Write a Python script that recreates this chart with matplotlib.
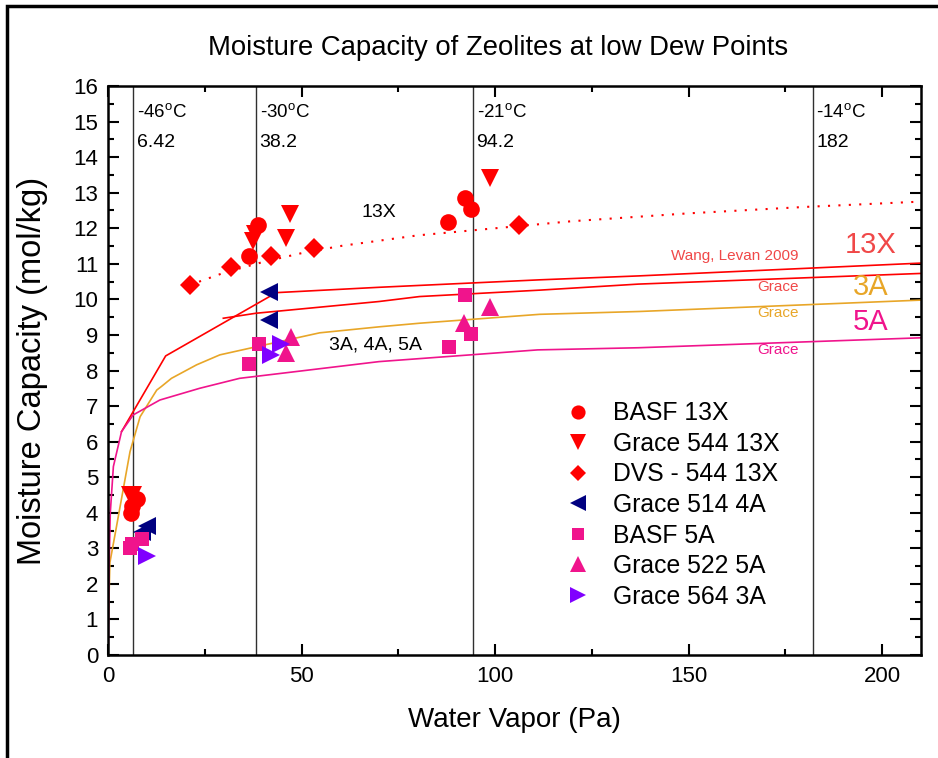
import numpy as np
import matplotlib
matplotlib.use('Agg')
import matplotlib.pyplot as plt
from matplotlib.patches import Rectangle
from matplotlib.ticker import MultipleLocator

plt.rcParams['font.family'] = ['Liberation Sans', 'DejaVu Sans']
plt.rcParams['mathtext.default'] = 'regular'

# measured points (water vapor Pa, capacity mol/kg)
basf13x_x = [6.2, 7.6, 6.0, 38.8, 36.5, 87.8, 92.1, 93.8]
basf13x_y = [4.2, 4.4, 4.0, 12.09, 11.22, 12.19, 12.84, 12.53]
g544_x = [5.6, 6.5, 37.9, 37.5, 45.9, 47.1, 98.7]
g544_y = [4.5, 4.5, 11.85, 11.65, 11.72, 12.39, 13.40]
dvs544_x = [21.2, 31.7, 42.2, 53.2, 106.1]
dvs544_y = [10.40, 10.90, 11.22, 11.45, 12.09]
g514_x = [10.0, 8.9, 41.5, 41.5]
g514_y = [3.62, 3.47, 10.22, 9.42]
basf5a_x = [5.8, 6.3, 8.7, 39.0, 36.5, 92.1, 93.8, 88.0]
basf5a_y = [3.0, 3.12, 3.27, 8.74, 8.18, 10.12, 9.04, 8.67]
g522_x = [47.4, 45.9, 98.6, 92.0]
g522_y = [8.95, 8.48, 9.80, 9.33]
g564_x = [10.0, 44.8, 42.2]
g564_y = [2.77, 8.75, 8.44]

# dotted trend through the 13X points
trend_x = [21, 30, 40, 50, 60, 80, 100, 120, 150, 180, 210]
trend_y = [10.40, 10.75, 11.05, 11.30, 11.50, 11.80, 12.00, 12.20, 12.42, 12.60, 12.75]

# isotherm curves
wang_x = [3.5, 14.9, 43.5, 70, 111.5, 137, 210]
wang_y = [6.28, 8.41, 10.19, 10.34, 10.55, 10.66, 11.02]
grace13_x = [29.8, 38.2, 70, 80.5, 111.5, 137, 210]
grace13_y = [9.47, 9.61, 9.94, 10.08, 10.26, 10.43, 10.73]
grace3a_x = [0.1, 0.5, 2.2, 5.7, 8.3, 12.6, 13.8, 16.4, 22.9, 28.9, 38.4, 54.7, 70.2, 80.5, 111.5, 137.3, 210]
grace3a_y = [0.9, 2.6, 3.61, 5.72, 6.70, 7.45, 7.55, 7.78, 8.16, 8.44, 8.67, 9.06, 9.23, 9.33, 9.58, 9.66, 9.98]
grace5a_x = [0.1, 0.3, 0.6, 1.4, 3.5, 6.5, 13.4, 23.7, 34, 70, 111, 137, 210]
grace5a_y = [0.3, 2.5, 4.0, 5.3, 6.28, 6.75, 7.17, 7.50, 7.78, 8.25, 8.58, 8.64, 8.92]

dew_p = [6.42, 38.2, 94.2, 182]
dew_t = ['-46', '-30', '-21', '-14']
dew_lbl = ['6.42', '38.2', '94.2', '182']

RED = '#ff0000'
ORANGE = '#e8a628'
PINK = '#f0148c'
NAVY = '#000080'
PURPLE = '#8000ff'

fig = plt.figure(figsize=(9.38, 7.58), dpi=100)
ax = fig.add_axes([0.1151, 0.1359, 0.8667, 0.7506])

for xv in dew_p:
    ax.axvline(xv, color='#303030', lw=1.0, zorder=1)
for xv, t, l in zip(dew_p, dew_t, dew_lbl):
    ax.text(xv + 1.0, 15.27, t + '$^{o}$C', fontsize=13.5, va='center')
    ax.text(xv + 1.0, 14.4, l, fontsize=14, va='center')

ax.plot(wang_x, wang_y, color=RED, lw=1.2, zorder=2)
ax.plot(grace13_x, grace13_y, color=RED, lw=1.2, zorder=2)
ax.plot(grace3a_x, grace3a_y, color=ORANGE, lw=1.2, zorder=2)
ax.plot(grace5a_x, grace5a_y, color=PINK, lw=1.2, zorder=2)
ax.plot(trend_x, trend_y, color=RED, lw=1.5, ls=(0, (1, 4)), zorder=2)

ms = dict(ls='none', zorder=3, markeredgewidth=0)
ax.plot(basf13x_x, basf13x_y, 'o', color=RED, ms=12, label='BASF 13X', **ms)
ax.plot(g544_x, g544_y, 'v', color=RED, ms=13, label='Grace 544 13X', **ms)
ax.plot(dvs544_x, dvs544_y, 'D', color=RED, ms=10, label='DVS - 544 13X', **ms)
ax.plot(g514_x, g514_y, '<', color=NAVY, ms=13, label='Grace 514 4A', **ms)
ax.plot(basf5a_x, basf5a_y, 's', color=PINK, ms=10, label='BASF 5A', **ms)
ax.plot(g522_x, g522_y, '^', color=PINK, ms=13, label='Grace 522 5A', **ms)
ax.plot(g564_x, g564_y, '>', color=PURPLE, ms=13, label='Grace 564 3A', **ms)

ax.text(70, 12.43, '13X', fontsize=14, ha='center', va='center')
ax.text(69, 8.72, '3A, 4A, 5A', fontsize=14, ha='center', va='center')
ax.text(178.5, 11.22, 'Wang, Levan 2009', fontsize=11, color='#f04848', ha='right', va='center')
ax.text(178.5, 10.35, 'Grace', fontsize=11, color='#f04848', ha='right', va='center')
ax.text(178.5, 9.62, 'Grace', fontsize=11, color=ORANGE, ha='right', va='center')
ax.text(178.5, 8.58, 'Grace', fontsize=11, color=PINK, ha='right', va='center')
ax.text(197, 11.53, '13X', fontsize=21, color='#f04848', ha='center', va='center')
ax.text(197, 10.35, '3A', fontsize=21, color=ORANGE, ha='center', va='center')
ax.text(197, 9.36, '5A', fontsize=21, color=PINK, ha='center', va='center')

ax.set_xlim(0, 210)
ax.set_ylim(0, 16)
ax.xaxis.set_major_locator(MultipleLocator(50))
ax.xaxis.set_minor_locator(MultipleLocator(25))
ax.yaxis.set_major_locator(MultipleLocator(1))
ax.yaxis.set_minor_locator(MultipleLocator(0.5))
ax.tick_params(which='both', direction='in', top=True, right=True, width=1.5)
ax.tick_params(which='major', length=8, labelsize=16)
ax.tick_params(which='minor', length=4)
ax.tick_params(axis='x', pad=8)
ax.tick_params(axis='y', pad=7)
for s in ax.spines.values():
    s.set_linewidth(1.8)

ax.set_xlabel('Water Vapor (Pa)', fontsize=20, labelpad=14)
ax.set_ylabel('Moisture Capacity (mol/kg)', fontsize=23.5, labelpad=18)
fig.text(0.531, 0.937, 'Moisture Capacity of Zeolites at low Dew Points', fontsize=19.8,
         ha='center', va='center')

ax.legend(loc='upper left', bbox_to_anchor=(0.535, 0.485), frameon=False, fontsize=17.8,
          markerscale=0.85, handlelength=1.0, handletextpad=0.95, labelspacing=0.265)

fig.patches.append(Rectangle((0.0075, -0.05), 1.1, 0.992 + 0.05, transform=fig.transFigure,
                             fill=False, lw=2.5, ec='black', clip_on=False))

fig.savefig('out.png', dpi=100)
